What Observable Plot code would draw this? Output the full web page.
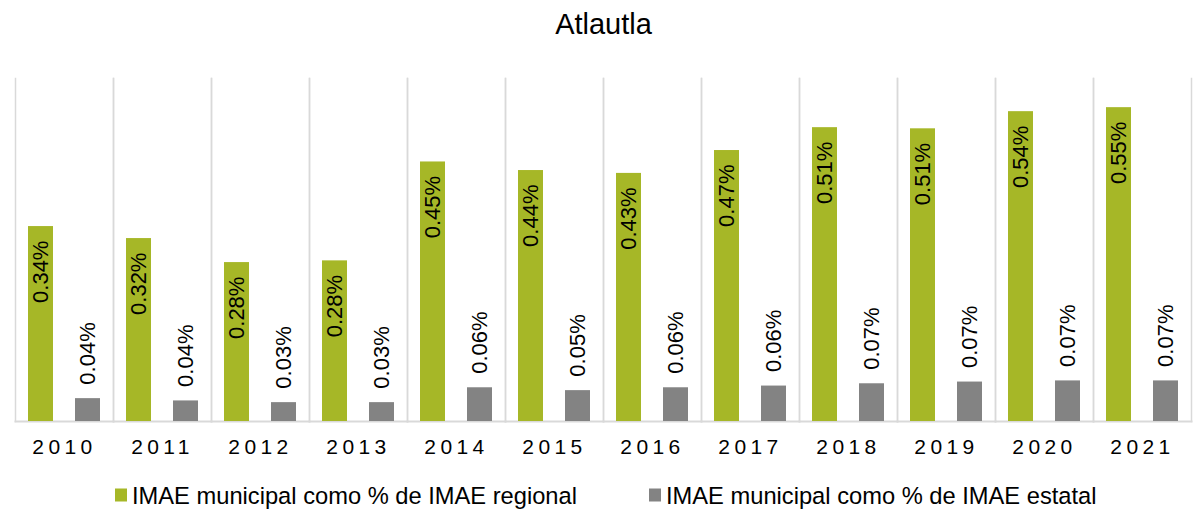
<!DOCTYPE html>
<html>
<head>
<meta charset="utf-8">
<script src="https://cdn.jsdelivr.net/npm/d3@7"></script>
<script src="https://cdn.jsdelivr.net/npm/@observablehq/plot@0.6"></script>
<style>
  html, body { margin: 0; padding: 0; background: #fff; }
  #wrap { position: relative; width: 1198px; height: 510px; overflow: hidden;
          font-family: "Liberation Sans", Arial, sans-serif; color: #000; }
  #title { position: absolute; left: 0; top: 9.5px; width: 1198px; box-sizing: border-box;
           padding-left: 9px; text-align: center; font-size: 29px; line-height: 29px; }
  #chart { position: absolute; left: 0; top: 58px; }
  #legend { position: absolute; left: 115px; top: 484px; display: flex; align-items: center;
            gap: 72px; font-size: 23.7px; line-height: 24px; white-space: nowrap; }
  .item { display: flex; align-items: center; }
  .sw { width: 12px; height: 13px; margin-right: 5px; transform: translateY(-1.5px); }
  g[aria-label="fx-axis tick label"] text { letter-spacing: 4.4px; }
</style>
</head>
<body>
<div id="wrap">
  <div id="title"></div>
  <div id="chart"></div>
  <div id="legend"></div>
</div>
<script>
const title = "Atlautla";
const years = ["2010","2011","2012","2013","2014","2015","2016","2017","2018","2019","2020","2021"];
const seriesNames = ["IMAE municipal como % de IMAE regional", "IMAE municipal como % de IMAE estatal"];
const seriesColors = ["#a6b727", "#838383"];
// values in percent
const regional = [0.341, 0.320, 0.278, 0.281, 0.454, 0.439, 0.434, 0.474, 0.514, 0.512, 0.542, 0.549];
const estatal  = [0.040, 0.036, 0.033, 0.033, 0.059, 0.054, 0.059, 0.062, 0.066, 0.069, 0.071, 0.071];

const fmt = v => v.toFixed(2) + "%";
const rows = [];
years.forEach((y, i) => {
  rows.push({year: y, series: seriesNames[0], value: regional[i]});
  rows.push({year: y, series: seriesNames[1], value: estatal[i]});
});
const regRows = rows.filter(d => d.series === seriesNames[0]);
const estRows = rows.filter(d => d.series === seriesNames[1]);

document.getElementById("title").textContent = title;

const font = "'Liberation Sans', Arial, sans-serif";
const grid = "#d9d9d9";
const chart = Plot.plot({
  width: 1198,
  height: 413,
  marginLeft: 10,
  marginRight: 2,
  marginTop: 20,
  marginBottom: 50,
  style: {fontFamily: font, background: "transparent", overflow: "visible", color: "#000"},
  fx: {domain: years, padding: 0, label: null},
  x: {domain: seriesNames, paddingInner: 0.46, paddingOuter: 0.26, axis: null},
  y: {domain: [0, 0.6], axis: null},
  color: {domain: seriesNames, range: seriesColors},
  marks: [
    Plot.frame({anchor: "left", stroke: grid, strokeWidth: 1.5}),
    Plot.frame({anchor: "right", stroke: grid, strokeWidth: 1.5}),
    Plot.frame({anchor: "bottom", stroke: grid, strokeWidth: 2}),
    Plot.barY(rows, {fx: "year", x: "series", y: "value", fill: "series"}),
    Plot.text(regRows, {fx: "year", x: "series", y: "value", text: d => fmt(d.value),
      rotate: -90, textAnchor: "end", lineAnchor: "middle", dy: 14, fontSize: 22, fill: "#000"}),
    Plot.text(estRows, {fx: "year", x: "series", y: "value", text: d => fmt(d.value),
      rotate: -90, textAnchor: "start", lineAnchor: "middle", dy: -14, fontSize: 22, fill: "#000"}),
    Plot.axisFx({anchor: "bottom", fontSize: 21, tickSize: 0, tickPadding: 18, label: null, fill: "#000"})
  ]
});
document.getElementById("chart").appendChild(chart);

const legend = document.getElementById("legend");
seriesNames.forEach((name, i) => {
  const it = document.createElement("div");
  it.className = "item";
  const sw = document.createElement("div");
  sw.className = "sw";
  sw.style.background = seriesColors[i];
  const tx = document.createElement("span");
  tx.textContent = name;
  it.appendChild(sw);
  it.appendChild(tx);
  legend.appendChild(it);
});
</script>
</body>
</html>
